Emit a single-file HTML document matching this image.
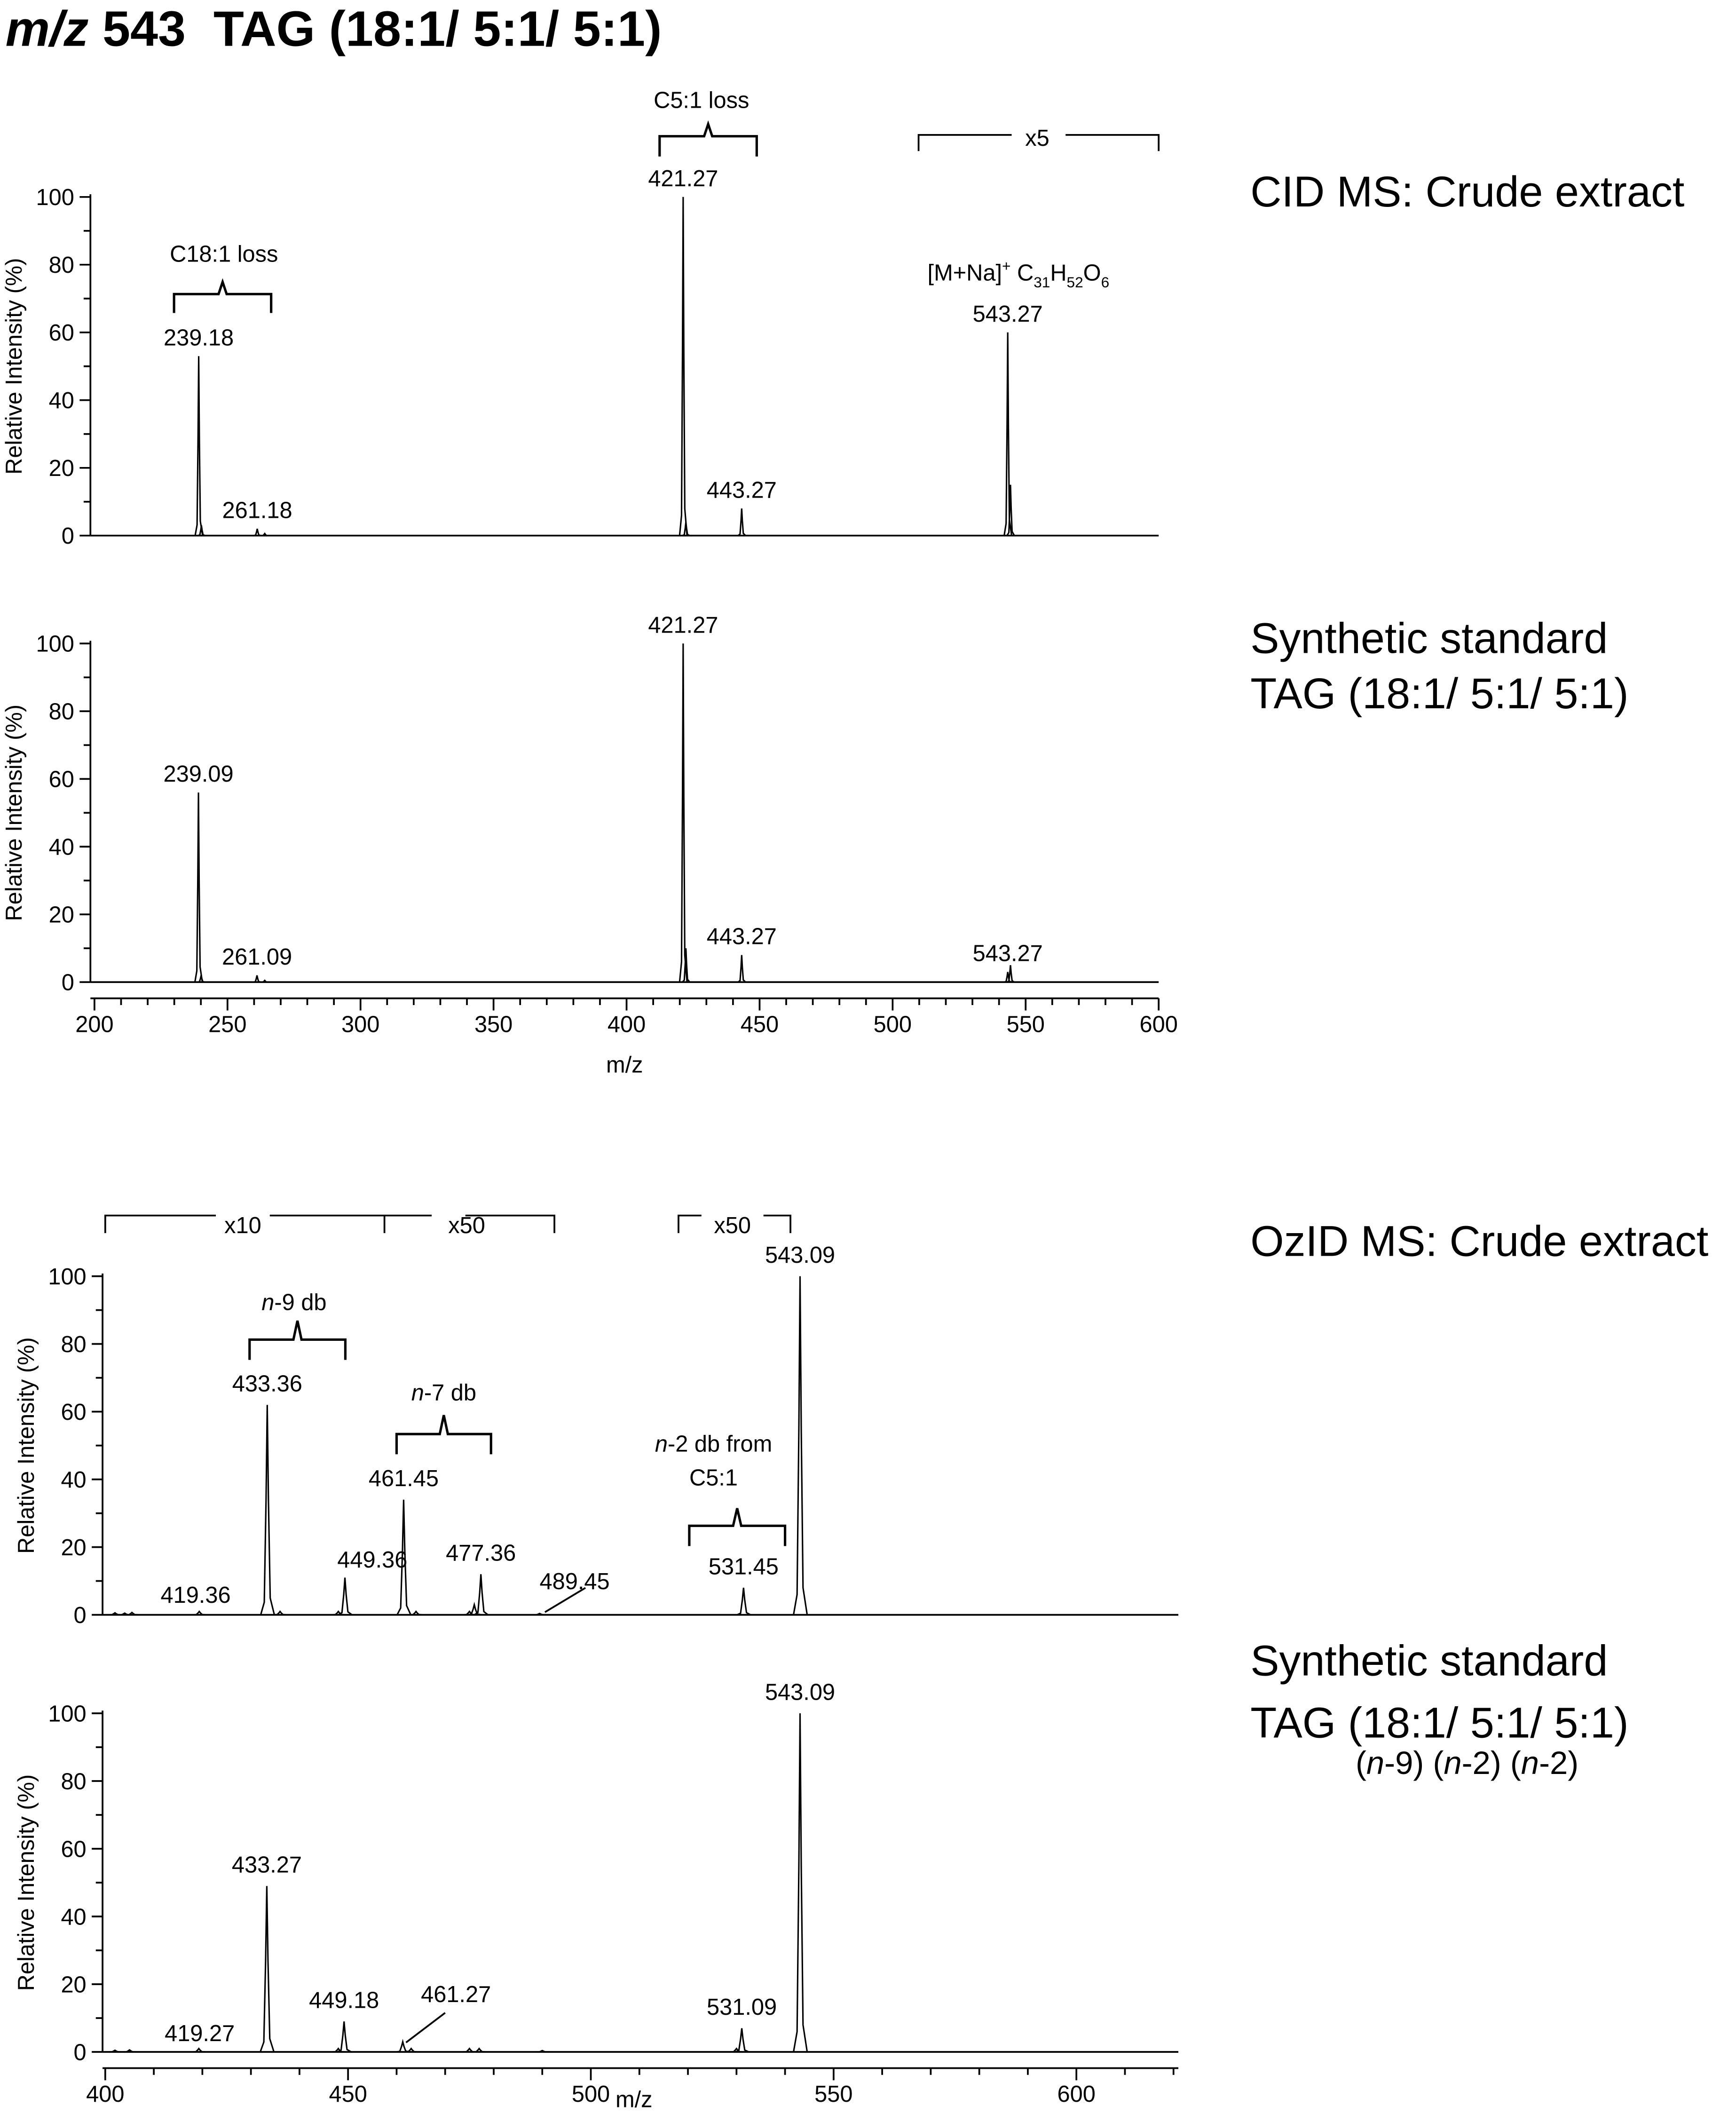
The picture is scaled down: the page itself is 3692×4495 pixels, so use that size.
<!DOCTYPE html>
<html><head><meta charset="utf-8"><style>
html,body{margin:0;padding:0;background:#fff}
svg{display:block}
text{font-family:"Liberation Sans",Arial,sans-serif;fill:#000}
</style></head><body>
<svg id="chart" width="3692" height="4495" viewBox="0 0 1287 1567" xmlns="http://www.w3.org/2000/svg">
<text x="4" y="34" font-size="37" font-weight="bold"><tspan font-style="italic">m/z</tspan> 543&#160;&#160;TAG (18:1/ 5:1/ 5:1)</text>
<g id="g" fill="none" stroke="#000" stroke-width="1.3"></g>
<g id="t"></g>
</svg>
<script>
// ---- data ----
const p1Mz = [239.18, 240.2, 261.18, 264, 421.27, 422.3, 443.27, 543.27, 544.3];
const p1Int = [53, 3, 2, 0.6, 100, 4, 8, 60, 15];
const p1Labels = ["239.18", "", "261.18", "", "421.27", "", "443.27", "543.27", ""];
const p2Mz = [239.09, 240.1, 261.09, 264, 421.27, 422.3, 443.27, 543.27, 544.3];
const p2Int = [56, 2, 2, 0.5, 100, 10, 8, 3, 5];
const p2Labels = ["239.09", "", "261.09", "", "421.27", "", "443.27", "543.27", ""];
const p3Mz = [402, 404, 405.5, 419.36, 433.36, 436, 448, 449.36, 461.45, 464, 475, 476, 477.36, 489.45, 531.45, 543.09];
const p3Int = [0.6, 0.5, 0.7, 1, 62, 1, 1, 11, 34, 1, 1, 3, 12, 0.4, 8, 100];
const p4Mz = [402, 405, 419.27, 433.27, 448, 449.18, 461.27, 463, 475, 477, 490, 530, 531.09, 543.09];
const p4Int = [0.5, 0.6, 1, 49, 1, 9, 3, 1, 1, 1, 0.4, 1, 7, 100];
const xTicks1 = [200, 250, 300, 350, 400, 450, 500, 550, 600];
const xTicks2 = [400, 450, 500, 550, 600];
const yTicks = [0, 20, 40, 60, 80, 100];

const NS = "http://www.w3.org/2000/svg";
const G = document.getElementById('g'), T = document.getElementById('t');
function el(tag, attrs, parent, txt){const e=document.createElementNS(NS,tag);for(const k in attrs)e.setAttribute(k,attrs[k]);if(txt!=null)e.textContent=txt;(parent||G).appendChild(e);return e;}
function txt(x,y,s,size,anchor,name,extra){const e=el('text',Object.assign({x:x,y:y,'font-size':size||17,'text-anchor':anchor||'middle'},extra||{}),T,s);


return e;}

function panel(o){
  const sx=m=>o.x0+(m-o.m0)*o.kx, sy=v=>o.y0-(v/100)*(o.y0-o.y100);
  const ya=el('line',{x1:o.ax,y1:o.y0,x2:o.ax,y2:o.y100-2});
  
  
  for(let v=0;v<=100;v+=10){const major=v%20===0;el('line',{x1:o.ax-(major?8:5),y1:sy(v),x2:o.ax,y2:sy(v)});}
  yTicks.forEach(v=>txt(o.ax-12,sy(v)+6,String(v),17,'end',o.name+'-y-tick'));
  txt(0,0,'Relative Intensity (%)',17,'middle',o.name+'-y-axis-title',{transform:`translate(${o.ax-51},${(o.y0+o.y100)/2}) rotate(-90)`});
  el('line',{x1:o.ax,y1:o.y0,x2:sx(o.mEnd),y2:o.y0});
  let d='';
  o.mz.forEach((m,i)=>{const x=sx(m),y=sy(o.int[i]),w=o.w;
    d+=`M${x-w*2.2},${o.y0} L${x-w},${o.y0-(o.y0-y)*0.06} L${x-w*0.4},${o.y0-(o.y0-y)*0.55} L${x},${y} L${x+w*0.4},${o.y0-(o.y0-y)*0.55} L${x+w},${o.y0-(o.y0-y)*0.08} L${x+w*2.4},${o.y0} `;});
  const pk=el('path',{d:d,'stroke-width':1.1});
  
  
  if(o.labels)o.mz.forEach((m,i)=>{if(o.labels[i])txt(sx(m),sy(o.int[i])-8,o.labels[i],17,'middle',o.name+'-peak-label');});
  if(o.xTicks){const xa=o.xAxisY;
    el('line',{x1:o.ax,y1:xa,x2:sx(o.mEnd),y2:xa});
    for(let m=o.m0;m<=o.mEnd;m+=10){const major=(m%50===0);el('line',{x1:sx(m),y1:xa,x2:sx(m),y2:xa+(major?9:5)});}
    o.xTicks.forEach(m=>txt(sx(m),xa+25,String(m),17,'middle',o.name+'-x-tick'));
  }
  return {sx,sy};
}
function brace(x1,x2,y,h,tip){tip=tip||9;el('path',{d:`M${x1},${y+h} L${x1},${y} L${(x1+x2)/2-3},${y} L${(x1+x2)/2},${y-tip} L${(x1+x2)/2+3},${y} L${x2},${y} L${x2},${y+h}`,'stroke-width':1.8});}

const a=panel({name:'cid-crude',ax:67,x0:70,m0:200,mEnd:600,kx:789/400,y0:397,y100:146,w:1.2,mz:p1Mz,int:p1Int,labels:p1Labels});
const b=panel({name:'cid-standard',ax:67,x0:70,m0:200,mEnd:600,kx:789/400,y0:728,y100:477,w:1.2,mz:p2Mz,int:p2Int,labels:p2Labels,xTicks:xTicks1,xAxisY:740});
txt(463,795,'m/z',17,'middle','x-axis-title-top');
const c=panel({name:'ozid-crude',ax:76,x0:78,m0:400,mEnd:621,kx:3.6,y0:1197,y100:946,w:2.2,mz:p3Mz,int:p3Int});
const d=panel({name:'ozid-standard',ax:76,x0:78,m0:400,mEnd:621,kx:3.6,y0:1521,y100:1270,w:2.2,mz:p4Mz,int:p4Int,xTicks:xTicks2,xAxisY:1533});
txt(470,1562,'m/z',17,'middle','x-axis-title-bottom');

[['433.36',433.36,62],['461.45',461.45,34],['477.36',477.36,12],['531.45',531.45,8],['543.09',543.09,100]].forEach(l=>txt(c.sx(l[1]),c.sy(l[2])-10,l[0],17,'middle','ozid-crude-peak-label'));
txt(145,1188,'419.36',17,'middle','ozid-crude-peak-label');
txt(276,1162,'449.36',17,'middle','ozid-crude-peak-label');
txt(426,1178,'489.45',17,'middle','ozid-crude-peak-label');
el('line',{x1:404,y1:1195,x2:434,y2:1177});
[['433.27',433.27,49],['449.18',449.18,9],['531.09',531.09,7],['543.09',543.09,100]].forEach(l=>txt(d.sx(l[1]),d.sy(l[2])-10,l[0],17,'middle','ozid-standard-peak-label'));
txt(148,1513,'419.27',17,'middle','ozid-standard-peak-label');
txt(338,1484,'461.27',17,'middle','ozid-standard-peak-label');
el('line',{x1:301,y1:1514,x2:330,y2:1492});

brace(129,201,218,14); txt(166,194,'C18:1 loss',17,'middle','c18-loss-annotation');
brace(489,561,101,15); txt(520,80,'C5:1 loss',17,'middle','c5-loss-annotation');
el('path',{d:'M681,112 L681,100 L750,100 M790,100 L859,100 L859,112'}); txt(769,108,'x5',17,'middle','x5-annotation');
txt(755,208,'',17,'middle','ion-formula').innerHTML='[M+Na]<tspan font-size="11" dy="-7">+</tspan><tspan dy="7"> C</tspan><tspan font-size="11" dy="5">31</tspan><tspan dy="-5">H</tspan><tspan font-size="11" dy="5">52</tspan><tspan dy="-5">O</tspan><tspan font-size="11" dy="5">6</tspan>';
el('path',{d:'M78,914 L78,901 L160,901 M200,901 L320,901 M345,901 L411,901 L411,914 M285,901 L285,914'});
txt(180,914,'x10',17,'middle','x10-annotation'); txt(346,914,'x50',17,'middle','x50-annotation');
el('path',{d:'M503,914 L503,901 L520,901 M566,901 L586,901 L586,914'}); txt(543,914,'x50',17,'middle','x50-annotation-2');
brace(185,256,993,15,14); txt(218,971,'',17,'middle','n9-annotation').innerHTML='<tspan font-style="italic">n</tspan>-9 db';
brace(294,364,1063,15,14); txt(329,1038,'',17,'middle','n7-annotation').innerHTML='<tspan font-style="italic">n</tspan>-7 db';
brace(511,582,1131,15,13); txt(529,1076,'',17,'middle','n2-annotation').innerHTML='<tspan font-style="italic">n</tspan>-2 db from';
txt(529,1101,'C5:1',17,'middle','n2-annotation-line2');

txt(927,153,'CID MS: Crude extract',32,'start','title-cid-crude');
txt(927,484,'Synthetic standard',32,'start','title-cid-standard');
txt(927,525,'TAG (18:1/ 5:1/ 5:1)',32,'start','title-cid-standard-2');
txt(927,931,'OzID MS: Crude extract',32,'start','title-ozid-crude');
txt(927,1242,'Synthetic standard',32,'start','title-ozid-standard');
txt(927,1288,'TAG (18:1/ 5:1/ 5:1)',32,'start','title-ozid-standard-2');
txt(1005,1315,'',24,'start','db-positions').innerHTML='(<tspan font-style="italic">n</tspan>-9) (<tspan font-style="italic">n</tspan>-2) (<tspan font-style="italic">n</tspan>-2)';
</script>
</body></html>
